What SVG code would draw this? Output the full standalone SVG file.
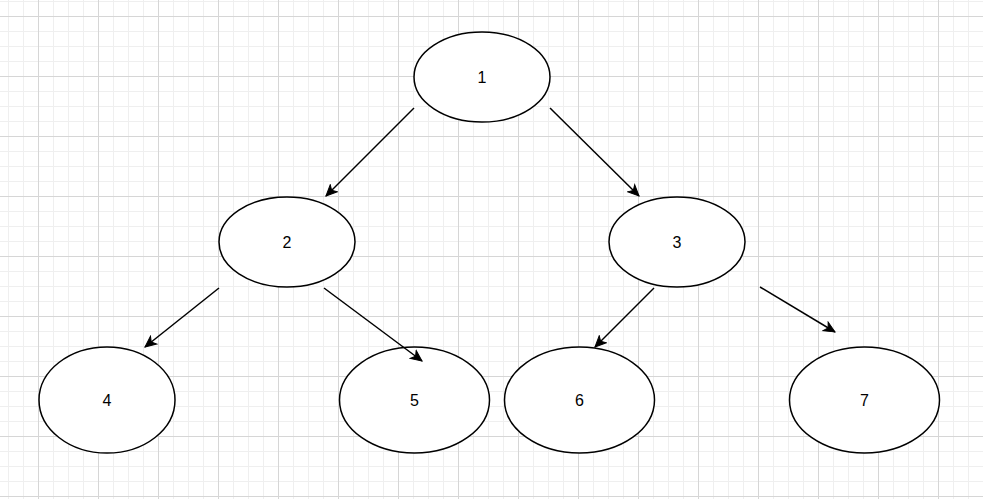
<svg xmlns="http://www.w3.org/2000/svg" width="983" height="499" viewBox="0 0 983 499">
<style>
.node ellipse{fill:#ffffff;stroke:#000000;stroke-width:1.5}
.node text{font-family:"Liberation Sans",Arial,Helvetica,sans-serif;font-size:16px;fill:#000000;text-anchor:middle}
.edge{stroke:#000000;stroke-width:1.5;fill:none;marker-end:url(#arrow)}
</style>
<defs>
<pattern id="minor" patternUnits="userSpaceOnUse" x="8" y="1" width="15" height="15">
<rect x="0" y="0" width="1" height="15" fill="#efefef"/>
<rect x="0" y="0" width="15" height="1" fill="#efefef"/>
</pattern>
<pattern id="major" patternUnits="userSpaceOnUse" x="38" y="16" width="60" height="60">
<rect x="0" y="0" width="1" height="60" fill="#d6d6d6"/>
<rect x="0" y="0" width="60" height="1" fill="#d6d6d6"/>
</pattern>
<marker id="arrow" markerUnits="userSpaceOnUse" viewBox="-12 -7 14 14" refX="0" refY="0" markerWidth="14" markerHeight="14" orient="auto">
<path d="M0,0 L-11,-5 L-8,0 L-11,5 Z" fill="#000000" stroke="#000000" stroke-width="1"/>
</marker>
</defs>
<rect width="983" height="499" fill="#ffffff"/>
<rect width="983" height="499" fill="url(#minor)"/>
<rect width="983" height="499" fill="url(#major)"/>
<g id="node1" class="node"><ellipse cx="482" cy="77" rx="68" ry="45"/><text x="482" y="83">1</text></g>
<g id="node2" class="node"><ellipse cx="287" cy="242" rx="68" ry="45"/><text x="287" y="248">2</text></g>
<g id="node3" class="node"><ellipse cx="677" cy="242" rx="68" ry="45"/><text x="677" y="248">3</text></g>
<g id="node4" class="node"><ellipse cx="107" cy="400" rx="68" ry="53"/><text x="107" y="406">4</text></g>
<g id="node5" class="node"><ellipse cx="414.5" cy="400" rx="75" ry="53"/><text x="414.5" y="406">5</text></g>
<g id="node6" class="node"><ellipse cx="579.5" cy="400" rx="75" ry="53"/><text x="579.5" y="406">6</text></g>
<g id="node7" class="node"><ellipse cx="864.5" cy="400" rx="75" ry="53"/><text x="864.5" y="406">7</text></g>
<g id="connectors">
<line class="edge" x1="414" y1="108" x2="326" y2="196"/>
<line class="edge" x1="550" y1="108" x2="639" y2="196"/>
<line class="edge" x1="219" y1="288" x2="145" y2="347"/>
<line class="edge" x1="324" y1="288" x2="422" y2="361"/>
<line class="edge" x1="654" y1="288" x2="595" y2="347"/>
<line class="edge" x1="760" y1="287" x2="835" y2="332"/>
</g>
</svg>
